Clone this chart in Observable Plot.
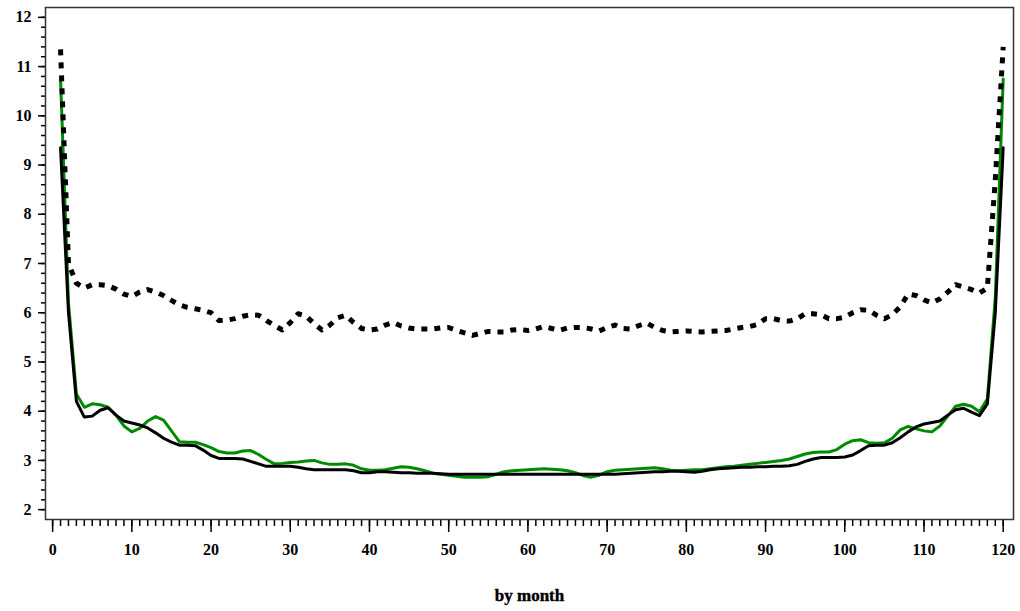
<!DOCTYPE html>
<html>
<head>
<meta charset="utf-8">
<script src="https://cdn.jsdelivr.net/npm/d3@7"></script>
<script src="https://cdn.jsdelivr.net/npm/@observablehq/plot@0.6"></script>
<style>
  html, body { margin: 0; padding: 0; background: #fff; }
  #chart svg { display: block; }
</style>
</head>
<body>
<div id="chart"></div>
<script>
// Month index 1..120
const months = Array.from({length: 120}, (_, i) => i + 1);

// Dotted black series
const dottedSeries = [
  11.35, 7.0, 6.6, 6.5, 6.57, 6.57, 6.55, 6.48, 6.38, 6.33,
  6.42, 6.47, 6.42, 6.35, 6.25, 6.16, 6.11, 6.08, 6.05, 6.0,
  5.84, 5.85, 5.88, 5.93, 5.96, 5.95, 5.84, 5.74, 5.65, 5.8,
  5.98, 5.93, 5.78, 5.65, 5.75, 5.9, 5.95, 5.8, 5.68, 5.65,
  5.67, 5.75, 5.8, 5.73, 5.69, 5.67, 5.67, 5.67, 5.69, 5.7,
  5.64, 5.59, 5.54, 5.58, 5.62, 5.61, 5.61, 5.65, 5.66, 5.64,
  5.67, 5.72, 5.68, 5.64, 5.69, 5.7, 5.7, 5.67, 5.63, 5.7,
  5.75, 5.68, 5.67, 5.74, 5.79, 5.7, 5.64, 5.61, 5.62, 5.63,
  5.62, 5.61, 5.62, 5.63, 5.64, 5.67, 5.7, 5.72, 5.76, 5.88,
  5.88, 5.84, 5.83, 5.88, 5.98, 5.98, 5.96, 5.88, 5.88, 5.91,
  6.0, 6.06, 6.05, 5.95, 5.88, 5.96, 6.12, 6.38, 6.35, 6.26,
  6.2, 6.28, 6.42, 6.57, 6.52, 6.47, 6.4, 6.5, 8.7, 11.4
];

// Green solid series
const greenSeries = [
  10.75, 6.2, 4.35, 4.08, 4.15, 4.13, 4.08, 3.92, 3.7, 3.58,
  3.65, 3.8, 3.89, 3.82, 3.6, 3.38, 3.37, 3.37, 3.32, 3.26,
  3.18, 3.15, 3.15, 3.19, 3.2, 3.12, 3.02, 2.93, 2.94, 2.96,
  2.97, 2.99, 3.0, 2.95, 2.92, 2.92, 2.93, 2.9, 2.83, 2.8,
  2.8, 2.81, 2.84, 2.87, 2.86, 2.83, 2.79, 2.74, 2.72, 2.7,
  2.68, 2.66, 2.66, 2.66, 2.67, 2.72, 2.77, 2.79, 2.8, 2.81,
  2.82, 2.83, 2.82, 2.81, 2.79, 2.75, 2.69, 2.66, 2.7, 2.77,
  2.8, 2.81, 2.82, 2.83, 2.84, 2.85, 2.83, 2.8, 2.79, 2.8,
  2.81, 2.81, 2.83, 2.85, 2.87, 2.88, 2.9, 2.92, 2.94, 2.96,
  2.98, 3.0, 3.03, 3.08, 3.13, 3.16, 3.17, 3.17, 3.22, 3.33,
  3.4, 3.42, 3.36, 3.35, 3.36, 3.45, 3.62, 3.69, 3.64, 3.6,
  3.58, 3.7, 3.9, 4.1, 4.14, 4.1, 3.99, 4.25, 6.3, 10.75
];

// Black solid series
const blackSeries = [
  9.35, 6.0, 4.2, 3.88, 3.9, 4.02, 4.07, 3.92, 3.8, 3.76,
  3.72, 3.66, 3.56, 3.45, 3.37, 3.31, 3.31, 3.3, 3.21, 3.1,
  3.04, 3.04, 3.04, 3.03, 2.98, 2.93, 2.88, 2.88, 2.88, 2.88,
  2.86, 2.83, 2.81, 2.81, 2.81, 2.81, 2.81, 2.79, 2.75, 2.75,
  2.77, 2.77, 2.76, 2.75, 2.75, 2.74, 2.74, 2.74, 2.73, 2.72,
  2.72, 2.72, 2.72, 2.72, 2.72, 2.72, 2.72, 2.72, 2.72, 2.72,
  2.72, 2.72, 2.72, 2.72, 2.72, 2.72, 2.72, 2.72, 2.72, 2.72,
  2.72, 2.73, 2.74, 2.75, 2.76, 2.77, 2.77, 2.78, 2.78, 2.77,
  2.76, 2.78, 2.81, 2.83, 2.84, 2.85, 2.86, 2.86, 2.87, 2.87,
  2.88, 2.88, 2.89, 2.92, 2.98, 3.03, 3.06, 3.06, 3.06, 3.07,
  3.11, 3.2, 3.3, 3.31, 3.31, 3.36, 3.46, 3.58, 3.68, 3.74,
  3.77, 3.8, 3.92, 4.03, 4.06, 3.98, 3.91, 4.15, 6.0, 9.35
];

const xTicks = [0, 10, 20, 30, 40, 50, 60, 70, 80, 90, 100, 110, 120];
const yTicks = [2, 3, 4, 5, 6, 7, 8, 9, 10, 11, 12];
const xMinorTicks = d3.range(0, 121, 1);
const yMinorTicks = d3.range(2, 12.001, 0.2).map(v => +v.toFixed(1));
const xLabel = "by month";

const toRows = (vals) => months.map((m, i) => ({month: m, value: vals[i]}));

const chart = Plot.plot({
  width: 1020,
  height: 611,
  marginLeft: 45,
  marginRight: 7,
  marginTop: 7,
  marginBottom: 92,
  style: {fontFamily: "'Liberation Serif', serif", fontWeight: "900", fontSize: "16px", color: "#000", background: "#fff"},
  x: {domain: [-0.9, 121.3]},
  y: {domain: [1.8, 12.2]},
  marks: [
    Plot.axisX({ticks: xMinorTicks, tickSize: 7, tickFormat: () => "", label: null, stroke: "#000", strokeWidth: 1.5}),
    Plot.axisX({ticks: xTicks, tickSize: 13, tickPadding: 11, label: null, stroke: "#000", strokeWidth: 1.5, fontSize: 16, fontWeight: "bold", stroke: "#000"}),
    Plot.axisY({ticks: yMinorTicks, tickSize: 4, tickFormat: () => "", label: null, stroke: "#000", strokeWidth: 1.5}),
    Plot.axisY({ticks: yTicks, tickSize: 7, tickPadding: 7, label: null, stroke: "#000", strokeWidth: 1.5, fontSize: 16, fontWeight: "bold"}),
    Plot.frame({stroke: "#333", strokeWidth: 1.5}),
    Plot.line(toRows(greenSeries), {x: "month", y: "value", stroke: "#008a00", strokeWidth: 3}),
    Plot.line(toRows(blackSeries), {x: "month", y: "value", stroke: "#000", strokeWidth: 3}),
    Plot.line(toRows(dottedSeries), {x: "month", y: "value", stroke: "#000", strokeWidth: 5, strokeDasharray: "6,7", strokeLinecap: "butt"}),
    Plot.text([xLabel], {frameAnchor: "bottom", dy: 81, fontSize: 17, fontWeight: "bold", fill: "#000", stroke: "#000", strokeWidth: 0.4})
  ]
});
document.getElementById("chart").appendChild(chart);
</script>
</body>
</html>
